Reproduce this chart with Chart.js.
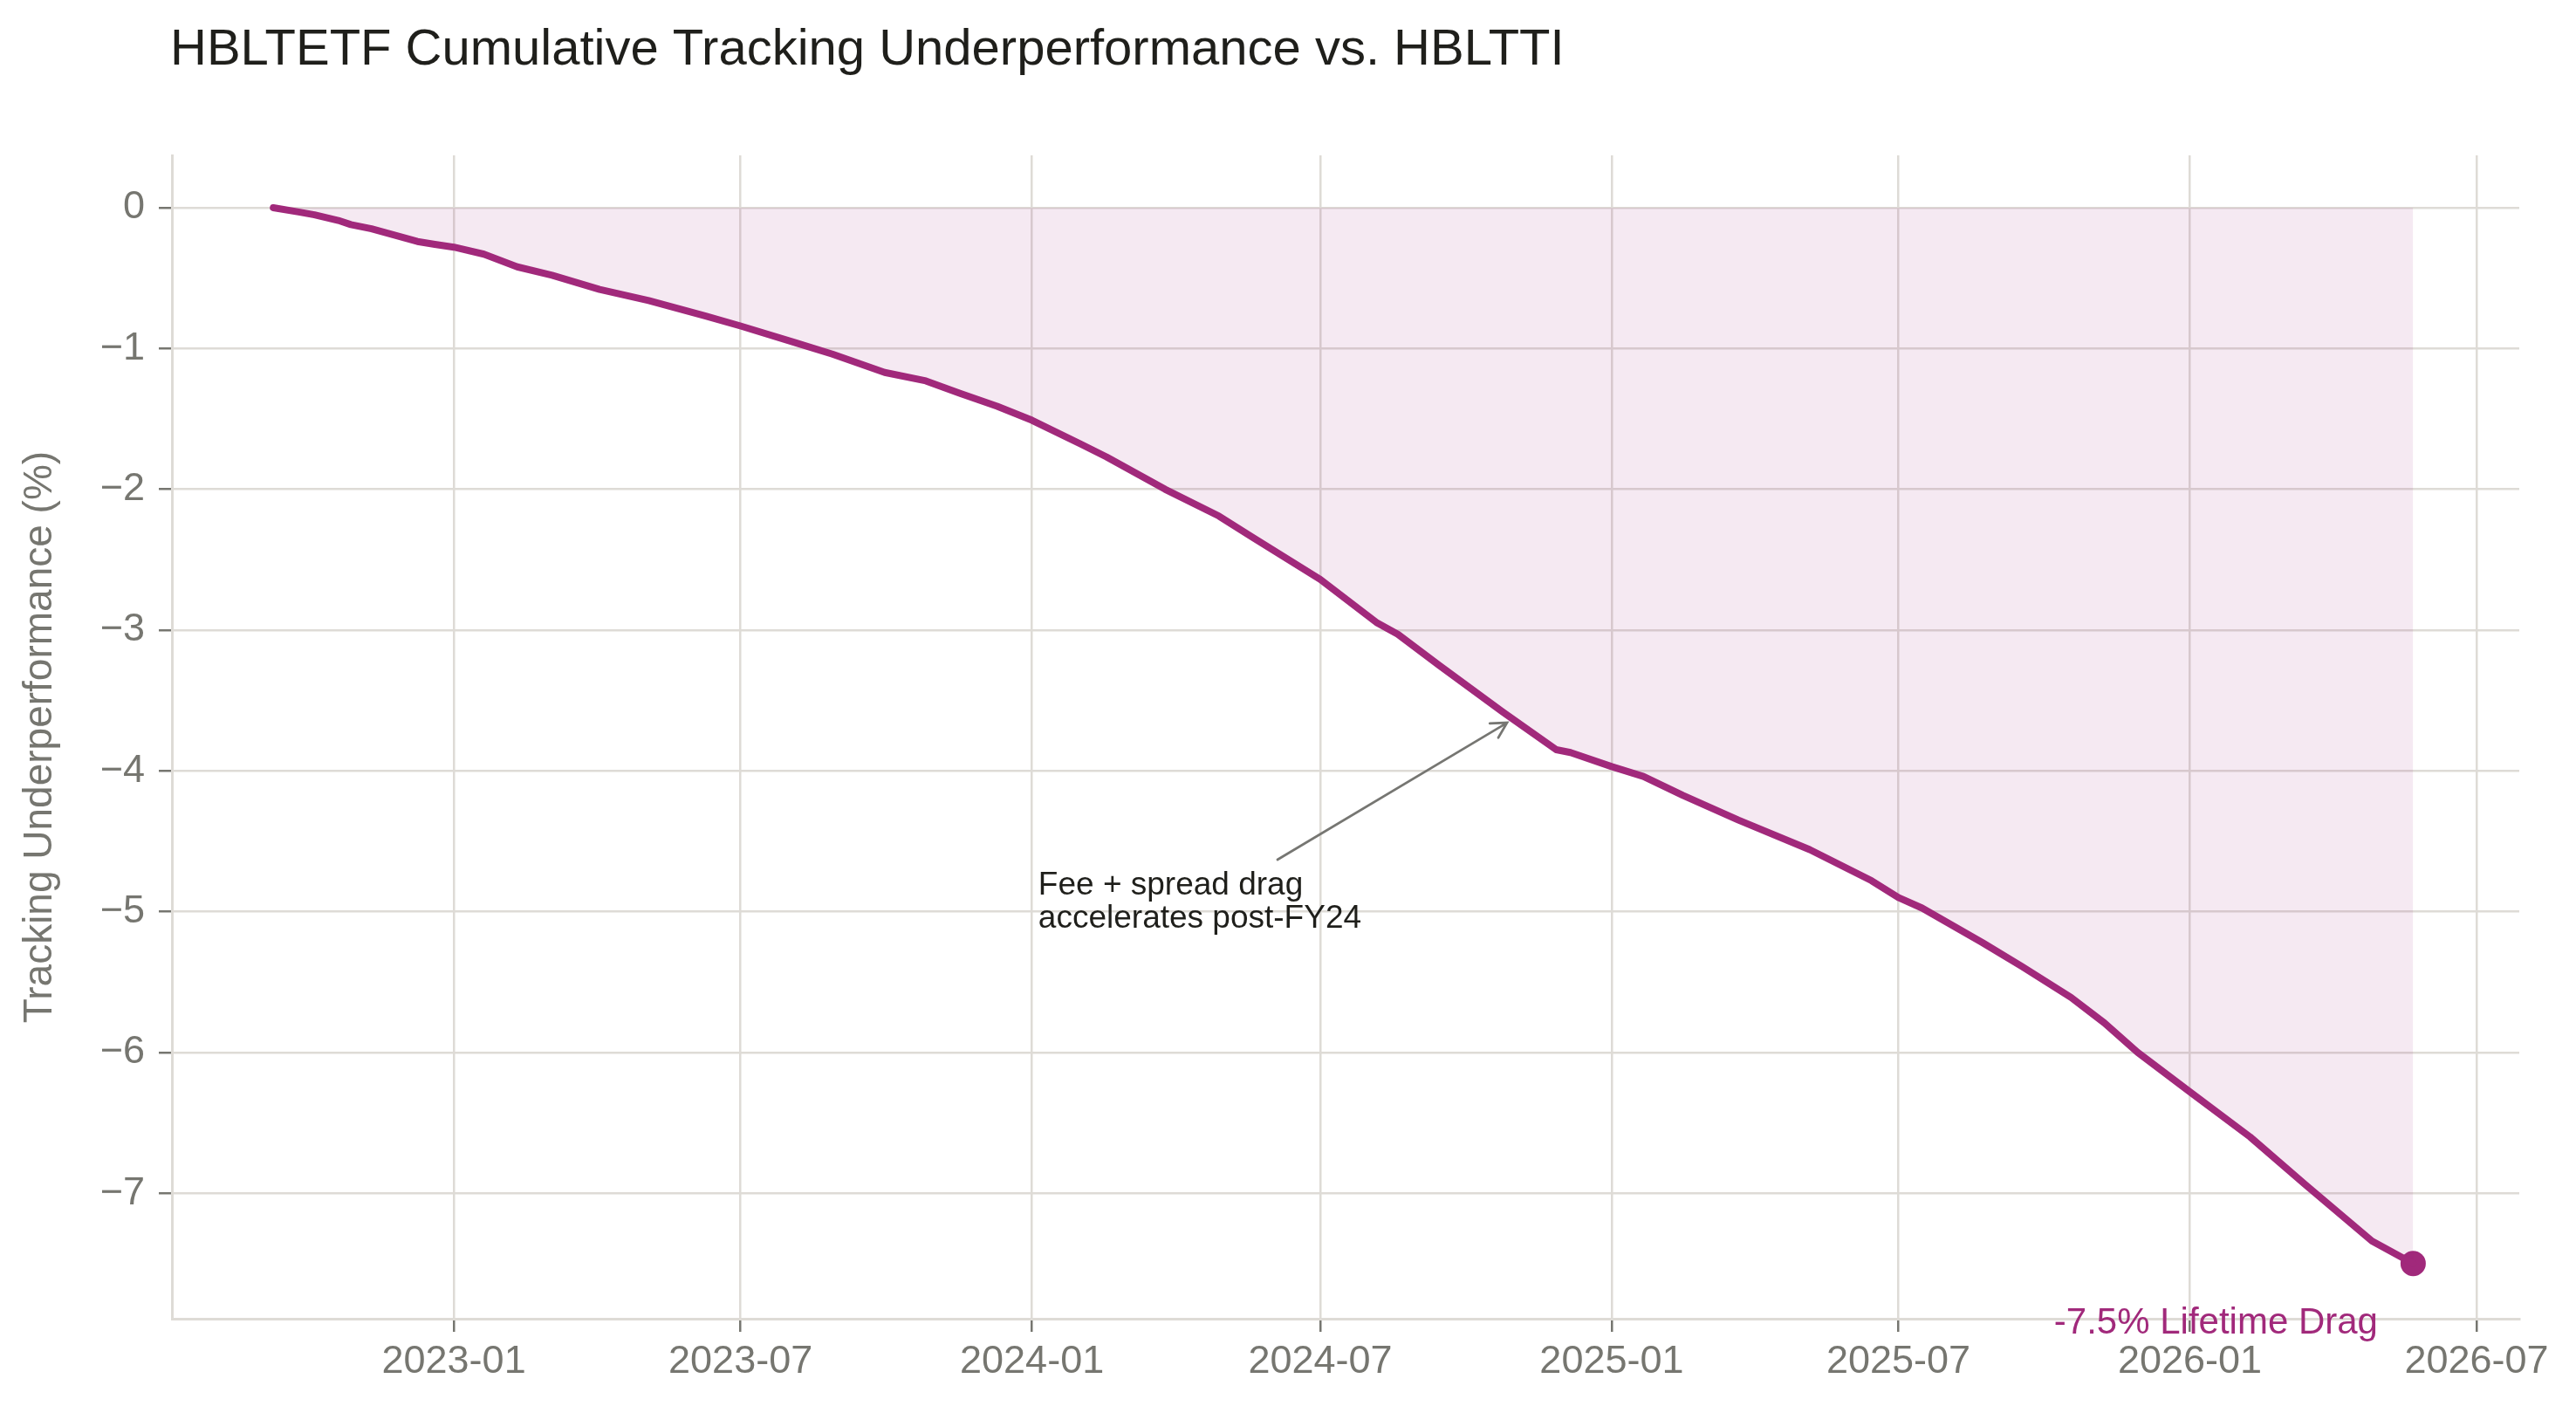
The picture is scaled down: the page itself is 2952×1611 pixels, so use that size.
<!DOCTYPE html>
<html>
<head>
<meta charset="utf-8">
<title>HBLTETF Cumulative Tracking Underperformance</title>
<script src="https://cdn.jsdelivr.net/npm/chart.js@4.4.1/dist/chart.umd.min.js"></script>
<style>
  html, body { margin: 0; padding: 0; background: #fff; }
  canvas { display: block; }
</style>
</head>
<body>
<canvas id="dragChart" width="2952" height="1611"></canvas>
<script>
const dates = [
    '2022-09-09', '2022-09-25', '2022-10-05', '2022-10-20', '2022-10-28', '2022-11-10',
    '2022-11-20', '2022-12-09', '2022-12-20', '2023-01-01', '2023-01-20', '2023-02-10',
    '2023-03-04', '2023-04-03', '2023-05-04', '2023-06-09', '2023-07-01', '2023-08-05',
    '2023-08-28', '2023-09-30', '2023-10-26', '2023-11-17', '2023-12-10', '2024-01-01',
    '2024-02-01', '2024-02-17', '2024-03-25', '2024-04-28', '2024-05-19', '2024-07-01',
    '2024-08-06', '2024-08-19', '2024-09-14', '2024-10-24', '2024-11-27', '2024-12-06',
    '2025-01-01', '2025-01-21', '2025-02-15', '2025-03-22', '2025-05-06', '2025-06-14',
    '2025-07-01', '2025-07-16', '2025-08-23', '2025-09-17', '2025-10-18', '2025-11-08',
    '2025-11-29', '2026-01-01', '2026-02-08', '2026-03-15', '2026-04-26', '2026-05-22'
];
const drag = [
    0.00, -0.03, -0.05, -0.09, -0.12, -0.15,
    -0.18, -0.24, -0.26, -0.28, -0.33, -0.42,
    -0.48, -0.58, -0.66, -0.77, -0.84, -0.96,
    -1.04, -1.17, -1.23, -1.32, -1.41, -1.51,
    -1.68, -1.77, -2.00, -2.19, -2.34, -2.64,
    -2.95, -3.03, -3.25, -3.58, -3.85, -3.87,
    -3.97, -4.04, -4.175, -4.35, -4.56, -4.78,
    -4.90, -4.975, -5.22, -5.39, -5.61, -5.79,
    -6.00, -6.28, -6.60, -6.94, -7.34, -7.50
];

const xTickLabels = ['2023-01', '2023-07', '2024-01', '2024-07', '2025-01', '2025-07', '2026-01', '2026-07'];
const yTicks = [0, -1, -2, -3, -4, -5, -6, -7];
const xRange = ['2022-07-07', '2026-07-28'];
const yRange = [-7.892, 0.372];

const noteLines = ['Fee + spread drag', 'accelerates post-FY24'];
const noteText = { date: '2024-01-05', value: -4.879 };
const noteTail = { date: '2024-06-04', value: -4.631 };
const noteTip = { date: '2024-10-27', value: -3.658 };

const LINE_COLOR = '#a1297b';
const FILL_COLOR = 'rgba(161, 41, 123, 0.1)';
const GRID_COLOR = '#dedbd6';
const TICK_COLOR = '#767670';
const FONT = "'Liberation Sans', Arial, sans-serif";

function toMs(d) {
    return Date.parse(d);
}

const series = dates.map((d, i) => ({ x: toMs(d), y: drag[i] }));
const lastPoint = series[series.length - 1];

// title, arrow annotation and end label
const overlayPlugin = {
    id: 'overlay',
    afterDraw(chart) {
        const ctx = chart.ctx;
        const xs = chart.scales.x;
        const ys = chart.scales.y;
        ctx.save();

        ctx.fillStyle = '#1f1f1b';
        ctx.font = `58px ${FONT}`;
        ctx.textAlign = 'left';
        ctx.textBaseline = 'alphabetic';
        ctx.fillText('HBLTETF Cumulative Tracking Underperformance vs. HBLTTI', 195, 74);

        // annotation arrow
        const x0 = xs.getPixelForValue(toMs(noteTail.date));
        const y0 = ys.getPixelForValue(noteTail.value);
        const x1 = xs.getPixelForValue(toMs(noteTip.date));
        const y1 = ys.getPixelForValue(noteTip.value);
        const ang = Math.atan2(y1 - y0, x1 - x0);
        ctx.strokeStyle = '#767672';
        ctx.lineWidth = 2.7;
        ctx.lineCap = 'round';
        ctx.beginPath();
        ctx.moveTo(x0, y0);
        ctx.lineTo(x1, y1);
        ctx.moveTo(x1 - 20 * Math.cos(ang - 0.5), y1 - 20 * Math.sin(ang - 0.5));
        ctx.lineTo(x1, y1);
        ctx.lineTo(x1 - 20 * Math.cos(ang + 0.5), y1 - 20 * Math.sin(ang + 0.5));
        ctx.stroke();

        ctx.fillStyle = '#1f1f1b';
        ctx.font = `37px ${FONT}`;
        const tx = xs.getPixelForValue(toMs(noteText.date));
        const ty = ys.getPixelForValue(noteText.value);
        noteLines.forEach((line, i) => ctx.fillText(line, tx, ty + i * 38));

        // end label
        const ex = xs.getPixelForValue(lastPoint.x);
        const ey = ys.getPixelForValue(lastPoint.y);
        ctx.fillStyle = LINE_COLOR;
        ctx.font = `42px ${FONT}`;
        ctx.textAlign = 'center';
        ctx.fillText(`${lastPoint.y.toFixed(1)}% Lifetime Drag`, ex - 226, ey + 80);

        ctx.restore();
    }
};

const ctx = document.getElementById('dragChart').getContext('2d');
new Chart(ctx, {
    type: 'line',
    data: {
        datasets: [
            {
                data: series,
                borderColor: LINE_COLOR,
                borderWidth: 8,
                backgroundColor: FILL_COLOR,
                fill: 'origin',
                pointRadius: 0,
                tension: 0,
                borderJoinStyle: 'round',
                borderCapStyle: 'round'
            },
            {
                data: [lastPoint],
                showLine: false,
                pointRadius: 14.5,
                pointBackgroundColor: LINE_COLOR,
                pointBorderWidth: 0,
                fill: false
            }
        ]
    },
    options: {
        responsive: false,
        devicePixelRatio: 1,
        animation: false,
        layout: {
            padding: { left: 0, top: 178, right: 65, bottom: 0 }
        },
        plugins: {
            legend: { display: false },
            tooltip: { enabled: false }
        },
        scales: {
            x: {
                type: 'linear',
                min: toMs(xRange[0]),
                max: toMs(xRange[1]),
                afterBuildTicks: scale => {
                    scale.ticks = xTickLabels.map(l => ({ value: toMs(l + '-01') }));
                },
                afterFit: scale => { scale.height = 100; },
                ticks: {
                    autoSkip: false,
                    maxRotation: 0,
                    padding: 8,
                    color: TICK_COLOR,
                    font: { family: FONT, size: 45 },
                    callback: value => {
                        const d = new Date(value);
                        return d.getUTCFullYear() + '-' + String(d.getUTCMonth() + 1).padStart(2, '0');
                    }
                },
                grid: {
                    color: GRID_COLOR,
                    lineWidth: 2.5,
                    tickColor: TICK_COLOR,
                    tickWidth: 2.5,
                    tickLength: 15
                },
                border: { color: GRID_COLOR, width: 3 }
            },
            y: {
                min: yRange[0],
                max: yRange[1],
                afterBuildTicks: scale => {
                    scale.ticks = yTicks.map(v => ({ value: v }));
                },
                afterFit: scale => { scale.width = 197; },
                ticks: {
                    padding: 16,
                    color: TICK_COLOR,
                    font: { family: FONT, size: 45 },
                    callback: v => (v === 0 ? '0' : '\u2212' + Math.abs(v))
                },
                grid: {
                    color: GRID_COLOR,
                    lineWidth: 2.5,
                    tickColor: TICK_COLOR,
                    tickWidth: 2.5,
                    tickLength: 15
                },
                border: { color: GRID_COLOR, width: 3 },
                title: {
                    display: true,
                    text: 'Tracking Underperformance (%)',
                    color: TICK_COLOR,
                    font: { family: FONT, size: 46 },
                    padding: { top: 19, bottom: 0 }
                }
            }
        }
    },
    plugins: [overlayPlugin]
});
</script>
</body>
</html>
